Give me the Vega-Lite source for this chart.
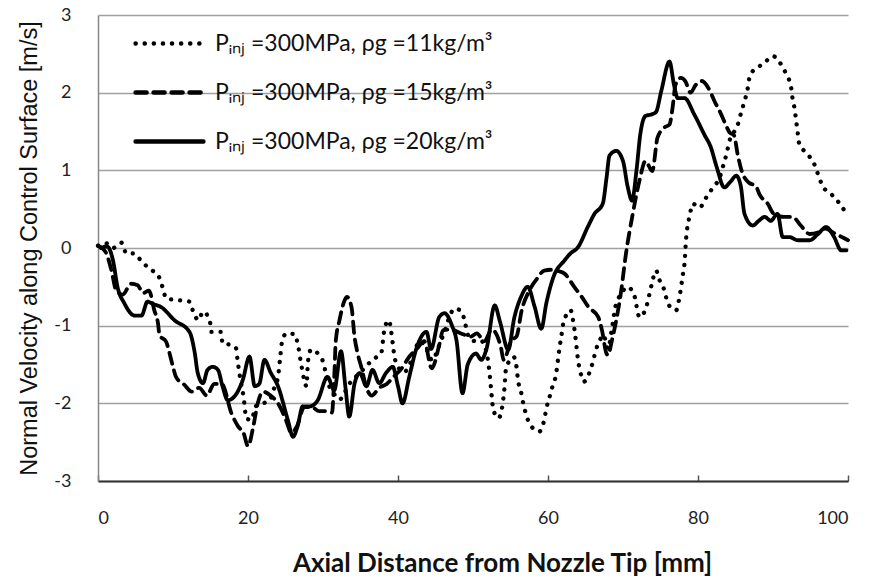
{
  "$schema": "https://vega.github.io/schema/vega-lite/v6.json",
  "width": 750,
  "height": 466,
  "autosize": {"type": "none"},
  "padding": {"left": 98, "top": 15, "right": 24, "bottom": 100},
  "background": "white",
  "config": {"view": {"stroke": null}, "font": "Lato"},
  "datasets": {
    "d11": [
      {"x": 0, "v": 0.03}, {"x": 1.1, "v": 0.06}, {"x": 2.0, "v": 0.0}, {"x": 3.1, "v": 0.07}, {"x": 3.8, "v": -0.07}, {"x": 4.8, "v": -0.07},
      {"x": 5.8, "v": -0.17}, {"x": 6.9, "v": -0.27}, {"x": 8.0, "v": -0.35}, {"x": 8.6, "v": -0.5}, {"x": 9.1, "v": -0.65}, {"x": 10.5, "v": -0.67},
      {"x": 12.2, "v": -0.69}, {"x": 12.7, "v": -0.82}, {"x": 13.4, "v": -0.93}, {"x": 14.0, "v": -0.82}, {"x": 14.9, "v": -0.93}, {"x": 15.1, "v": -1.08},
      {"x": 16.4, "v": -1.08}, {"x": 16.6, "v": -1.23}, {"x": 17.8, "v": -1.25}, {"x": 18.4, "v": -1.29}, {"x": 18.6, "v": -1.44}, {"x": 19.0, "v": -1.7},
      {"x": 19.4, "v": -1.91}, {"x": 19.8, "v": -2.2}, {"x": 20.5, "v": -2.21}, {"x": 21.0, "v": -2.04}, {"x": 22.0, "v": -2.0}, {"x": 22.9, "v": -1.96},
      {"x": 23.5, "v": -1.8}, {"x": 24.0, "v": -1.66}, {"x": 24.3, "v": -1.4}, {"x": 24.5, "v": -1.23}, {"x": 25.1, "v": -1.1}, {"x": 26.2, "v": -1.11},
      {"x": 26.7, "v": -1.27}, {"x": 27.1, "v": -1.5}, {"x": 27.5, "v": -1.7}, {"x": 27.8, "v": -1.78}, {"x": 28.0, "v": -1.46}, {"x": 28.4, "v": -1.31},
      {"x": 29.5, "v": -1.38}, {"x": 30.2, "v": -1.53}, {"x": 30.4, "v": -1.66}, {"x": 31.3, "v": -1.85}, {"x": 32.2, "v": -1.95}, {"x": 33.5, "v": -1.75},
      {"x": 35.0, "v": -1.6}, {"x": 36.6, "v": -1.44}, {"x": 37.8, "v": -1.34}, {"x": 38.0, "v": -1.19}, {"x": 38.2, "v": -1.04}, {"x": 38.8, "v": -0.93},
      {"x": 39.1, "v": -1.08}, {"x": 39.3, "v": -1.23}, {"x": 39.5, "v": -1.38}, {"x": 40.0, "v": -1.53}, {"x": 40.8, "v": -1.6}, {"x": 41.8, "v": -1.45},
      {"x": 42.9, "v": -1.2}, {"x": 43.8, "v": -1.3}, {"x": 44.6, "v": -1.45}, {"x": 45.3, "v": -1.3}, {"x": 46.3, "v": -1.05}, {"x": 47.0, "v": -0.85},
      {"x": 47.6, "v": -0.78}, {"x": 48.5, "v": -0.82}, {"x": 49.0, "v": -0.99}, {"x": 49.5, "v": -1.16}, {"x": 50.4, "v": -1.2}, {"x": 51.0, "v": -1.19},
      {"x": 51.6, "v": -1.27}, {"x": 52.2, "v": -1.6}, {"x": 52.5, "v": -1.91}, {"x": 52.7, "v": -2.08}, {"x": 53.4, "v": -2.19}, {"x": 53.9, "v": -2.04},
      {"x": 54.2, "v": -1.8}, {"x": 54.4, "v": -1.55}, {"x": 55.0, "v": -1.44}, {"x": 55.4, "v": -1.4}, {"x": 55.8, "v": -1.53}, {"x": 56.0, "v": -1.7},
      {"x": 56.4, "v": -1.85}, {"x": 56.7, "v": -2.0}, {"x": 57.1, "v": -2.15}, {"x": 57.7, "v": -2.29}, {"x": 58.9, "v": -2.36}, {"x": 59.5, "v": -2.21},
      {"x": 59.8, "v": -2.06}, {"x": 60.2, "v": -1.92}, {"x": 60.6, "v": -1.78}, {"x": 61.1, "v": -1.61}, {"x": 61.3, "v": -1.46}, {"x": 61.5, "v": -1.31},
      {"x": 61.8, "v": -1.12}, {"x": 62.0, "v": -0.99}, {"x": 62.4, "v": -0.87}, {"x": 63.0, "v": -0.8}, {"x": 63.4, "v": -0.97}, {"x": 63.6, "v": -1.1},
      {"x": 63.8, "v": -1.27}, {"x": 64.0, "v": -1.44}, {"x": 64.3, "v": -1.59}, {"x": 64.8, "v": -1.72}, {"x": 65.5, "v": -1.61}, {"x": 66.0, "v": -1.46},
      {"x": 66.4, "v": -1.31}, {"x": 66.9, "v": -1.19}, {"x": 67.4, "v": -1.12}, {"x": 68.0, "v": -1.3}, {"x": 68.5, "v": -1.05}, {"x": 69.0, "v": -0.75},
      {"x": 69.3, "v": -0.67}, {"x": 70.0, "v": -0.55}, {"x": 70.6, "v": -0.5}, {"x": 71.5, "v": -0.61}, {"x": 72.2, "v": -0.89}, {"x": 73.1, "v": -0.76},
      {"x": 73.8, "v": -0.48}, {"x": 74.4, "v": -0.29}, {"x": 74.9, "v": -0.42}, {"x": 75.5, "v": -0.54}, {"x": 76.0, "v": -0.72}, {"x": 77.1, "v": -0.8},
      {"x": 77.5, "v": -0.65}, {"x": 78.0, "v": -0.33}, {"x": 78.2, "v": -0.2}, {"x": 78.4, "v": 0.1}, {"x": 78.9, "v": 0.42}, {"x": 79.3, "v": 0.57},
      {"x": 80.2, "v": 0.52}, {"x": 81.1, "v": 0.65}, {"x": 82.0, "v": 0.78}, {"x": 82.9, "v": 0.91}, {"x": 83.3, "v": 1.04}, {"x": 83.8, "v": 1.21},
      {"x": 84.2, "v": 1.38}, {"x": 84.9, "v": 1.51}, {"x": 85.3, "v": 1.59}, {"x": 85.8, "v": 1.76}, {"x": 86.2, "v": 1.89}, {"x": 86.6, "v": 2.04},
      {"x": 86.9, "v": 2.21}, {"x": 87.8, "v": 2.32}, {"x": 88.6, "v": 2.36}, {"x": 90.0, "v": 2.47}, {"x": 91.1, "v": 2.36}, {"x": 91.8, "v": 2.23},
      {"x": 92.4, "v": 2.08}, {"x": 92.6, "v": 1.93}, {"x": 92.9, "v": 1.78}, {"x": 93.1, "v": 1.63}, {"x": 93.3, "v": 1.48}, {"x": 93.5, "v": 1.34},
      {"x": 94.6, "v": 1.21}, {"x": 95.5, "v": 1.08}, {"x": 96.0, "v": 0.95}, {"x": 96.6, "v": 0.8}, {"x": 97.8, "v": 0.69}, {"x": 98.9, "v": 0.57},
      {"x": 99.8, "v": 0.44}
    ],
    "d15": [
      {"x": 0, "v": 0.03}, {"x": 1.0, "v": -0.05}, {"x": 1.8, "v": -0.29}, {"x": 2.4, "v": -0.54}, {"x": 3.3, "v": -0.6}, {"x": 4.4, "v": -0.46},
      {"x": 5.3, "v": -0.48}, {"x": 6.0, "v": -0.58}, {"x": 6.8, "v": -0.55}, {"x": 7.5, "v": -0.8}, {"x": 8.0, "v": -0.97}, {"x": 8.2, "v": -1.12},
      {"x": 9.1, "v": -1.21}, {"x": 9.5, "v": -1.34}, {"x": 10.0, "v": -1.53}, {"x": 10.4, "v": -1.66}, {"x": 11.5, "v": -1.76}, {"x": 12.5, "v": -1.85},
      {"x": 13.5, "v": -1.8}, {"x": 14.5, "v": -1.9}, {"x": 15.5, "v": -1.75}, {"x": 16.5, "v": -1.75}, {"x": 17.8, "v": -2.13}, {"x": 18.7, "v": -2.3},
      {"x": 19.4, "v": -2.38}, {"x": 20.0, "v": -2.55}, {"x": 20.7, "v": -2.3}, {"x": 21.3, "v": -2.0}, {"x": 22.0, "v": -1.85}, {"x": 23.0, "v": -1.9},
      {"x": 24.0, "v": -2.0}, {"x": 25.0, "v": -2.2}, {"x": 25.8, "v": -2.38}, {"x": 26.5, "v": -2.3}, {"x": 27.5, "v": -2.05}, {"x": 28.5, "v": -2.05},
      {"x": 29.5, "v": -2.1}, {"x": 30.5, "v": -2.1}, {"x": 31.2, "v": -2.12}, {"x": 31.5, "v": -1.66}, {"x": 31.7, "v": -1.2}, {"x": 32.2, "v": -0.93},
      {"x": 32.9, "v": -0.67}, {"x": 33.2, "v": -0.63}, {"x": 33.8, "v": -0.76}, {"x": 34.2, "v": -1.14}, {"x": 34.6, "v": -1.35}, {"x": 35.1, "v": -1.53},
      {"x": 35.8, "v": -1.8}, {"x": 36.5, "v": -1.9}, {"x": 37.5, "v": -1.8}, {"x": 38.5, "v": -1.75}, {"x": 39.5, "v": -1.65}, {"x": 40.5, "v": -1.55},
      {"x": 41.5, "v": -1.4}, {"x": 42.5, "v": -1.3}, {"x": 43.5, "v": -1.2}, {"x": 44.5, "v": -1.55}, {"x": 45.5, "v": -1.25}, {"x": 46.0, "v": -1.06},
      {"x": 47.0, "v": -1.05}, {"x": 48.4, "v": -1.1}, {"x": 49.7, "v": -1.14}, {"x": 50.5, "v": -1.1}, {"x": 51.5, "v": -1.2}, {"x": 52.5, "v": -1.05},
      {"x": 53.7, "v": -1.27}, {"x": 54.1, "v": -1.44}, {"x": 55.1, "v": -1.19}, {"x": 55.8, "v": -1.14}, {"x": 56.5, "v": -0.8}, {"x": 57.5, "v": -0.55},
      {"x": 58.5, "v": -0.4}, {"x": 59.5, "v": -0.29}, {"x": 60.5, "v": -0.28}, {"x": 61.5, "v": -0.3}, {"x": 62.2, "v": -0.33}, {"x": 63.5, "v": -0.5},
      {"x": 64.5, "v": -0.63}, {"x": 65.4, "v": -0.76}, {"x": 66.7, "v": -0.89}, {"x": 67.2, "v": -1.06}, {"x": 67.8, "v": -1.36}, {"x": 68.0, "v": -1.38},
      {"x": 68.5, "v": -1.2}, {"x": 69.1, "v": -0.93}, {"x": 69.7, "v": -0.59}, {"x": 70.4, "v": -0.07}, {"x": 71.3, "v": 0.44}, {"x": 72.2, "v": 0.87},
      {"x": 73.0, "v": 1.12}, {"x": 73.9, "v": 0.99}, {"x": 74.6, "v": 1.42}, {"x": 75.5, "v": 1.55}, {"x": 76.2, "v": 1.59}, {"x": 76.6, "v": 1.8},
      {"x": 77.0, "v": 2.1}, {"x": 77.7, "v": 2.19}, {"x": 78.3, "v": 2.15}, {"x": 79.0, "v": 2.0}, {"x": 79.7, "v": 2.1}, {"x": 80.5, "v": 2.15},
      {"x": 81.6, "v": 2.02}, {"x": 82.2, "v": 1.89}, {"x": 82.9, "v": 1.76}, {"x": 83.5, "v": 1.63}, {"x": 84.2, "v": 1.49}, {"x": 84.8, "v": 1.45},
      {"x": 85.3, "v": 1.2}, {"x": 85.8, "v": 1.0}, {"x": 86.8, "v": 0.84}, {"x": 87.7, "v": 0.8}, {"x": 88.2, "v": 0.69}, {"x": 89.3, "v": 0.57},
      {"x": 90.1, "v": 0.44}, {"x": 91.5, "v": 0.4}, {"x": 92.6, "v": 0.4}, {"x": 93.7, "v": 0.29}, {"x": 94.9, "v": 0.18}, {"x": 96.0, "v": 0.2},
      {"x": 97.0, "v": 0.25}, {"x": 98.0, "v": 0.2}, {"x": 99.0, "v": 0.15}, {"x": 100.0, "v": 0.1}
    ],
    "d20": [
      {"x": 0.4, "v": 0.0}, {"x": 1.2, "v": 0.02}, {"x": 2.0, "v": -0.16}, {"x": 2.6, "v": -0.5}, {"x": 3.5, "v": -0.71}, {"x": 4.9, "v": -0.87},
      {"x": 5.8, "v": -0.87}, {"x": 6.6, "v": -0.69}, {"x": 7.3, "v": -0.72}, {"x": 8.4, "v": -0.76}, {"x": 10.2, "v": -0.93}, {"x": 12.2, "v": -1.08},
      {"x": 12.9, "v": -1.35}, {"x": 13.3, "v": -1.61}, {"x": 14.0, "v": -1.74}, {"x": 14.6, "v": -1.57}, {"x": 15.3, "v": -1.53}, {"x": 16.0, "v": -1.57},
      {"x": 16.6, "v": -1.78}, {"x": 17.3, "v": -1.96}, {"x": 18.2, "v": -1.91}, {"x": 19.3, "v": -1.7}, {"x": 20.2, "v": -1.4}, {"x": 20.9, "v": -1.78},
      {"x": 21.5, "v": -1.75}, {"x": 22.2, "v": -1.44}, {"x": 23.0, "v": -1.6}, {"x": 24.0, "v": -1.78}, {"x": 25.3, "v": -2.21}, {"x": 26.0, "v": -2.43},
      {"x": 26.6, "v": -2.3}, {"x": 27.3, "v": -2.04}, {"x": 28.2, "v": -2.04}, {"x": 29.3, "v": -1.96}, {"x": 30.6, "v": -1.66}, {"x": 31.5, "v": -1.83},
      {"x": 32.4, "v": -1.33}, {"x": 33.0, "v": -1.8}, {"x": 33.5, "v": -2.17}, {"x": 34.2, "v": -1.75}, {"x": 34.9, "v": -1.61}, {"x": 35.8, "v": -1.78},
      {"x": 36.6, "v": -1.57}, {"x": 37.5, "v": -1.74}, {"x": 38.4, "v": -1.61}, {"x": 39.3, "v": -1.53}, {"x": 40.0, "v": -1.78}, {"x": 40.6, "v": -2.0},
      {"x": 41.5, "v": -1.66}, {"x": 42.4, "v": -1.31}, {"x": 43.8, "v": -1.08}, {"x": 44.4, "v": -1.3}, {"x": 45.5, "v": -0.89}, {"x": 46.2, "v": -0.84},
      {"x": 47.2, "v": -1.0}, {"x": 47.8, "v": -1.19}, {"x": 48.6, "v": -1.87}, {"x": 49.3, "v": -1.5}, {"x": 50.4, "v": -1.36}, {"x": 51.1, "v": -1.44},
      {"x": 51.8, "v": -1.3}, {"x": 52.9, "v": -0.74}, {"x": 53.6, "v": -0.95}, {"x": 54.7, "v": -1.31}, {"x": 55.5, "v": -0.9}, {"x": 56.4, "v": -0.63},
      {"x": 57.3, "v": -0.5}, {"x": 58.2, "v": -0.75}, {"x": 59.1, "v": -1.04}, {"x": 59.8, "v": -0.7}, {"x": 60.7, "v": -0.38}, {"x": 62.2, "v": -0.16},
      {"x": 63.0, "v": -0.07}, {"x": 64.0, "v": 0.01}, {"x": 65.3, "v": 0.27}, {"x": 66.2, "v": 0.44}, {"x": 67.3, "v": 0.57}, {"x": 67.8, "v": 0.9},
      {"x": 68.2, "v": 1.19}, {"x": 69.1, "v": 1.25}, {"x": 70.0, "v": 1.12}, {"x": 70.6, "v": 0.8}, {"x": 71.2, "v": 0.61}, {"x": 71.8, "v": 1.0},
      {"x": 72.3, "v": 1.46}, {"x": 73.0, "v": 1.7}, {"x": 73.8, "v": 1.72}, {"x": 74.4, "v": 1.75}, {"x": 75.1, "v": 2.02}, {"x": 76.2, "v": 2.4},
      {"x": 76.8, "v": 2.1}, {"x": 77.3, "v": 1.93}, {"x": 78.2, "v": 1.93}, {"x": 79.5, "v": 1.72}, {"x": 80.9, "v": 1.45}, {"x": 81.7, "v": 1.3},
      {"x": 82.5, "v": 1.04}, {"x": 83.5, "v": 0.78}, {"x": 84.3, "v": 0.85}, {"x": 85.1, "v": 0.93}, {"x": 85.7, "v": 0.8}, {"x": 86.2, "v": 0.44},
      {"x": 87.3, "v": 0.29}, {"x": 88.1, "v": 0.35}, {"x": 88.9, "v": 0.4}, {"x": 89.7, "v": 0.35}, {"x": 90.6, "v": 0.44}, {"x": 91.3, "v": 0.14},
      {"x": 92.2, "v": 0.14}, {"x": 93.3, "v": 0.1}, {"x": 94.9, "v": 0.1}, {"x": 96.0, "v": 0.18}, {"x": 97.1, "v": 0.27}, {"x": 98.1, "v": 0.15},
      {"x": 99.1, "v": -0.03}, {"x": 99.8, "v": -0.03}
    ]
  },
  "layer": [
    {
      "data": {"name": "d11"},
      "transform": [{"calculate": "'Pᵢₙⱼ =300MPa, ρg =11kg/m³'", "as": "series"}],
      "mark": {"type": "line", "stroke": "#000", "strokeWidth": 4.3, "strokeCap": "round", "strokeJoin": "round", "interpolate": "monotone"},
      "encoding": {
        "x": {"field": "x", "type": "quantitative"},
        "y": {"field": "v", "type": "quantitative"},
        "strokeDash": {"field": "series", "type": "nominal"}
      }
    },
    {
      "data": {"name": "d15"},
      "transform": [{"calculate": "'Pᵢₙⱼ =300MPa, ρg =15kg/m³'", "as": "series"}],
      "mark": {"type": "line", "stroke": "#000", "strokeWidth": 3.8, "strokeCap": "round", "strokeJoin": "round", "interpolate": "monotone"},
      "encoding": {
        "x": {"field": "x", "type": "quantitative"},
        "y": {"field": "v", "type": "quantitative"},
        "strokeDash": {"field": "series", "type": "nominal"}
      }
    },
    {
      "data": {"name": "d20"},
      "transform": [{"calculate": "'Pᵢₙⱼ =300MPa, ρg =20kg/m³'", "as": "series"}],
      "mark": {"type": "line", "stroke": "#000", "strokeWidth": 3.8, "strokeCap": "round", "strokeJoin": "round", "interpolate": "monotone"},
      "encoding": {
        "x": {
          "field": "x", "type": "quantitative",
          "scale": {"domain": [0, 100], "nice": false},
          "axis": {
            "title": "Axial Distance from Nozzle Tip [mm]",
            "values": [0, 20, 40, 60, 80, 100],
            "grid": false,
            "tickSize": -6, "tickColor": "#555", "tickWidth": 1.5,
            "domainColor": "#333", "domainWidth": 2,
            "labelFont": "Lato", "labelFontSize": 18, "labelColor": "#222", "labelPadding": 34,
            "titleFont": "Lato", "titleFontWeight": "bold", "titleFontSize": 26, "titleColor": "#111",
            "titlePadding": 23, "titleX": 404
          }
        },
        "y": {
          "field": "v", "type": "quantitative",
          "scale": {"domain": [-3, 3], "nice": false},
          "axis": {
            "title": "Normal Velocity along Control Surface [m/s]",
            "values": [-3, -2, -1, 0, 1, 2, 3],
            "labelExpr": "datum.value + ''",
            "ticks": false,
            "grid": true, "gridColor": "#a0a0a0", "gridWidth": 1.5,
            "domainColor": "#888", "domainWidth": 1.5,
            "labelFont": "Lato", "labelFontSize": 18, "labelColor": "#222", "labelPadding": 27,
            "titleFont": "Liberation Sans", "titleFontWeight": "normal", "titleFontSize": 23.5, "titleColor": "#111",
            "titlePadding": 12
          }
        },
        "strokeDash": {
          "field": "series", "type": "nominal",
          "scale": {
            "domain": ["Pᵢₙⱼ =300MPa, ρg =11kg/m³", "Pᵢₙⱼ =300MPa, ρg =15kg/m³", "Pᵢₙⱼ =300MPa, ρg =20kg/m³"],
            "range": [[0.1, 9], [11, 7], [1, 0]]
          },
          "legend": {
            "title": null,
            "orient": "none", "legendX": 35, "legendY": -8,
            "symbolType": "stroke", "symbolSize": 4600, "symbolStrokeWidth": 4.5, "symbolStrokeColor": "#000",
            "labelFont": "Lato", "labelFontSize": 23, "labelColor": "#111", "labelOffset": 9, "labelLimit": 500,
            "rowPadding": -1,
            "encode": {"symbols": {"update": {"strokeCap": {"value": "round"}}}}
          }
        }
      }
    },
    {
      "mark": {"type": "rule", "color": "#333", "strokeWidth": 2},
      "encoding": {"x": {"datum": 100}}
    }
  ]
}
